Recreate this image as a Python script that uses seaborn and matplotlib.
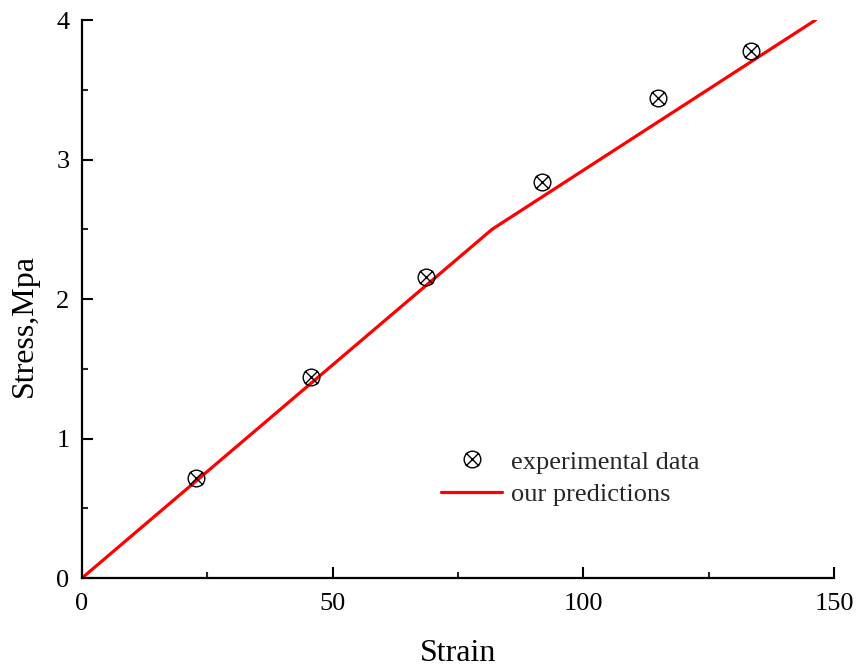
import numpy as np
import matplotlib
matplotlib.use("Agg")
import matplotlib.pyplot as plt
from matplotlib.path import Path
from matplotlib.markers import MarkerStyle
from matplotlib.ticker import MultipleLocator
import seaborn as sns
import pandas as pd

# measured points
exp_strain = [22.8, 45.7, 68.7, 91.8, 114.8, 133.5]
exp_stress = [0.72, 1.44, 2.16, 2.84, 3.44, 3.78]

# model prediction (bilinear)
pred_strain = [0, 81.8, 146.3]
pred_stress = [0, 2.5, 4.0]

sns.set_theme(style="ticks")
plt.rcParams['font.family'] = ['Liberation Serif', 'DejaVu Serif']

# circle with a cross (⊗)
circ = Path.unit_circle()
cross = Path([(-0.78, -0.78), (0.78, 0.78), (-0.78, 0.78), (0.78, -0.78)],
             [Path.MOVETO, Path.LINETO, Path.MOVETO, Path.LINETO])
otimes = MarkerStyle(Path.make_compound_path(circ, cross))

fig = plt.figure(figsize=(8.57, 6.68), dpi=100)
ax = fig.add_axes([0.0957, 0.1347, 0.8775, 0.8353])

df_exp = pd.DataFrame({"strain": exp_strain, "stress": exp_stress})
df_pred = pd.DataFrame({"strain": pred_strain, "stress": pred_stress})

sns.lineplot(data=df_pred, x="strain", y="stress", ax=ax, color="#ff0000",
             linewidth=2.3, label="our predictions", zorder=2)
ax.plot(df_exp["strain"], df_exp["stress"], linestyle="none", marker=otimes,
        markersize=12, markerfacecolor="none", markeredgecolor="black",
        markeredgewidth=1.0, label="experimental data", zorder=3)

ax.set_xlim(0, 150)
ax.set_ylim(0, 4)
ax.xaxis.set_major_locator(MultipleLocator(50))
ax.xaxis.set_minor_locator(MultipleLocator(25))
ax.yaxis.set_major_locator(MultipleLocator(1))
ax.yaxis.set_minor_locator(MultipleLocator(0.5))
ax.tick_params(which="major", direction="in", length=8, width=1.5,
               labelsize=19, colors="black")
ax.tick_params(axis="x", which="major", pad=11)
ax.tick_params(axis="y", which="major", pad=9)
ax.tick_params(which="minor", direction="in", length=4, width=1.5)
for s in ["top", "right"]:
    ax.spines[s].set_visible(False)
for s in ["left", "bottom"]:
    ax.spines[s].set_linewidth(1.6)
    ax.spines[s].set_color("black")

ax.set_xlabel("Strain", fontsize=23, color="black", labelpad=17)
ax.set_ylabel("Stress,Mpa", fontsize=23, color="black")
ax.yaxis.set_label_coords(-0.058, 0.453)

h, l = ax.get_legend_handles_labels()
ax.legend([h[1], h[0]], [l[1], l[0]], loc="upper left",
          bbox_to_anchor=(0.478, 0.229), frameon=False, fontsize=19,
          handlelength=2.3, handletextpad=0.35, borderpad=0, borderaxespad=0,
          labelspacing=0.35)

fig.savefig("out.png", dpi=100)
